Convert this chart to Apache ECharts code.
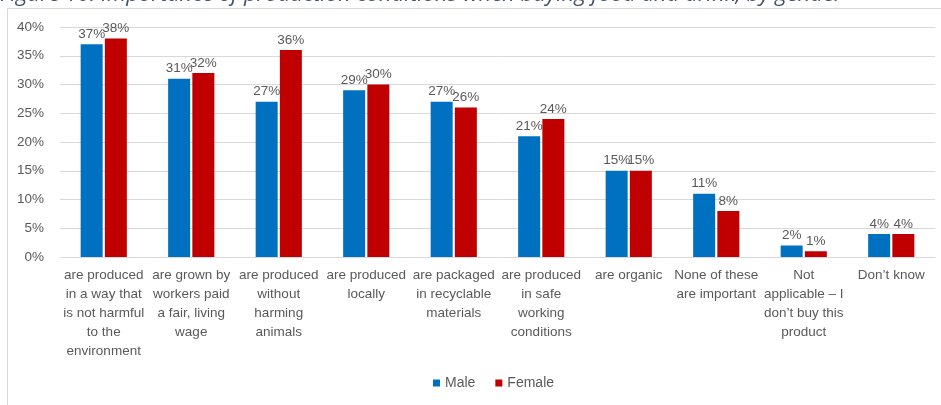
<!DOCTYPE html>
<html><head><meta charset="utf-8">
<script src="https://cdn.jsdelivr.net/npm/echarts@6/dist/echarts.min.js"></script>
<style>html,body{margin:0;padding:0;background:#fff}#c{width:941px;height:405px}</style>
</head><body><div id="c"></div>
<script>
var titleText = 'Figure 10: Importance of production conditions when buying food and drink, by gender';
var categories = [
  'are produced\nin a way that\nis not harmful\nto the\nenvironment',
  'are grown by\nworkers paid\na fair, living\nwage',
  'are produced\nwithout\nharming\nanimals',
  'are produced\nlocally',
  'are packaged\nin recyclable\nmaterials',
  'are produced\nin safe\nworking\nconditions',
  'are organic',
  'None of these\nare important',
  'Not\napplicable \u2013 I\ndon\u2019t buy this\nproduct',
  'Don\u2019t know'
];
var male = [37, 31, 27, 29, 27, 21, 15, 11, 2, 4];
var female = [38, 32, 36, 30, 26, 24, 15, 8, 1, 4];
var seriesNames = ['Male', 'Female'];

var font = 'Liberation Sans';
var chart = echarts.init(document.getElementById('c'));
function lbl(){return {show:true,position:'top',distance:3,formatter:'{c}%',color:'#595959',fontFamily:font,fontSize:13.5};}
chart.setOption({
  animation:false,
  graphic:[
    {type:'rect',shape:{x:7.5,y:8.5,width:1000,height:500},style:{fill:'none',stroke:'#D9D9D9',lineWidth:1}},
    {type:'text',left:0,top:-16,style:{text:titleText,fill:'#44546A',font:'italic 22px "Open Sans"'}}
  ],
  grid:{left:60,right:6,top:27,bottom:148},
  legend:{data:seriesNames,bottom:10,left:428,itemWidth:7,itemHeight:7,itemGap:20,icon:'rect',
    textStyle:{color:'#595959',fontFamily:font,fontSize:14}},
  xAxis:{type:'category',data:categories,
    axisLine:{lineStyle:{color:'#D9D9D9'}},axisTick:{show:false},
    axisLabel:{interval:0,color:'#595959',fontFamily:font,fontSize:13.5,lineHeight:19,margin:9}},
  yAxis:{type:'value',min:0,max:40,interval:5,
    axisLabel:{formatter:'{value}%',color:'#595959',fontFamily:font,fontSize:13.5,margin:16},
    splitLine:{lineStyle:{color:'#D9D9D9'}},axisLine:{show:false},axisTick:{show:false}},
  series:[
    {name:seriesNames[0],type:'bar',data:male,barWidth:22,barGap:'10%',itemStyle:{color:'#0070C0'},label:lbl()},
    {name:seriesNames[1],type:'bar',data:female,barWidth:22,itemStyle:{color:'#C00000'},label:lbl()}
  ]
});
</script></body></html>
